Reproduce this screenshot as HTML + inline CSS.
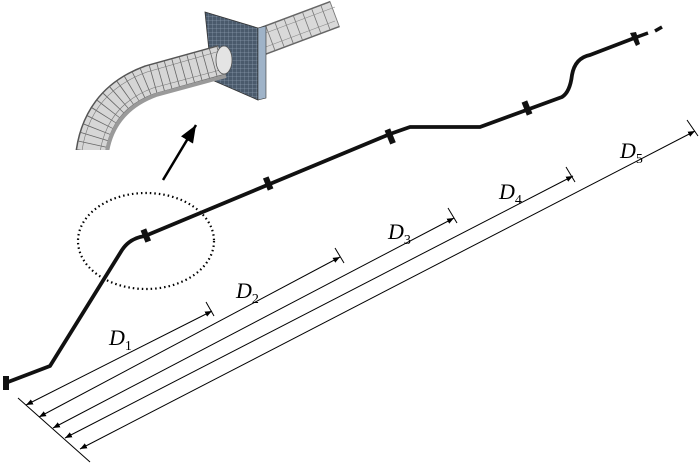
<!DOCTYPE html>
<html><head><style>html,body{margin:0;padding:0;background:#fff}svg{display:block}</style></head>
<body>
<svg width="700" height="464" viewBox="0 0 700 464" xmlns="http://www.w3.org/2000/svg">
<defs>
<pattern id="grid" width="4" height="4" patternUnits="userSpaceOnUse"><rect width="4" height="4" fill="#4a5a6c"/><path d="M0 0H4M0 0V4" stroke="#9fb2c6" stroke-width="0.5"/></pattern>
<marker id="ar" viewBox="0 0 10 10" refX="10" refY="5" markerWidth="7" markerHeight="7" orient="auto-start-reverse"><path d="M0 1L10 5L0 9z" fill="#000"/></marker>
</defs>
<!-- inset tube right of flange -->
<path d="M335 14 L255 44" stroke="#666" stroke-width="28" fill="none"/>
<path d="M335 14 L255 44" stroke="#d9d9d9" stroke-width="25" fill="none"/>
<path d="M335 14 L255 44" stroke="#777" stroke-width="25" fill="none" stroke-dasharray="0.8 9"/>
<path d="M335 7 L255 37 M335 21 L255 51" stroke="#888" stroke-width="0.6"/>
<!-- flange -->
<polygon points="205,12 258,28 258,100 212,80" fill="url(#grid)" stroke="#333" stroke-width="0.8"/>
<polygon points="258,28 266,26 266,98 258,100" fill="#9fb3c8" stroke="#333" stroke-width="0.6"/>
<!-- left curved tube -->
<path d="M90 160 Q95 100 150 80 L222 60" stroke="#555" stroke-width="31" fill="none"/>
<path d="M90 160 Q95 100 150 80 L222 60" stroke="#d6d6d6" stroke-width="28" fill="none"/>
<path d="M90 160 Q95 100 150 80 L222 60" stroke="#666" stroke-width="28" fill="none" stroke-dasharray="0.8 7"/>
<path d="M81 160 Q86 94 147 72 L220 51" stroke="#777" stroke-width="0.6" fill="none"/>
<path d="M99 160 Q104 106 153 88 L224 69" stroke="#777" stroke-width="0.6" fill="none"/>
<path d="M106 160 Q110 112 156 95 L226 76" stroke="#9a9a9a" stroke-width="4" fill="none"/>
<rect x="60" y="150" width="60" height="15" fill="#fff"/>
<ellipse cx="224" cy="60" rx="8" ry="14" fill="#e4e4e4" stroke="#555" stroke-width="0.8"/>
<!-- arrow -->
<line x1="163" y1="180" x2="196" y2="125" stroke="#000" stroke-width="2.5" marker-end="url(#ar)"/>
<!-- ellipse -->
<ellipse cx="146" cy="241" rx="68" ry="48" fill="none" stroke="#000" stroke-width="2.2" stroke-dasharray="1.5 3"/>
<!-- pipe -->
<path d="M8 382 L50 366 L122 250 Q130 238 145 236 L390 134 L410 127 L480 127 L562 97 Q570 92 572 75 Q575 58 590 55 L637 37" fill="none" stroke="#111" stroke-width="3.8" stroke-linejoin="round"/>
<path d="M637 37 L648 33 M655 31 L662 27" stroke="#111" stroke-width="3.5"/>
<rect x="3" y="376" width="6" height="14" fill="#111"/>
<g fill="#111">
<rect x="143" y="229" width="6" height="13" transform="rotate(-22 146 236)"/>
<rect x="265" y="177" width="6" height="13" transform="rotate(-22 268 183)"/>
<rect x="387" y="129" width="6" height="15" transform="rotate(-22 390 136)"/>
<rect x="524" y="101" width="6" height="14" transform="rotate(-22 527 108)"/>
<path d="M630 33 L636 32 L640 44 L636 46 Z"/>
</g>
<!-- dimension lines -->
<g stroke="#000" stroke-width="1" fill="none">
<line x1="18" y1="398" x2="90" y2="462"/>
<line x1="26" y1="405" x2="212" y2="311" marker-start="url(#ar)" marker-end="url(#ar)"/>
<line x1="39" y1="417" x2="340" y2="257" marker-start="url(#ar)" marker-end="url(#ar)"/>
<line x1="53" y1="428" x2="454" y2="218" marker-start="url(#ar)" marker-end="url(#ar)"/>
<line x1="65" y1="438" x2="573" y2="176" marker-start="url(#ar)" marker-end="url(#ar)"/>
<line x1="80" y1="449" x2="695" y2="131" marker-start="url(#ar)" marker-end="url(#ar)"/>
<line x1="206" y1="302" x2="214" y2="316"/>
<line x1="335" y1="248" x2="344" y2="263"/>
<line x1="448" y1="208" x2="457" y2="223"/>
<line x1="566" y1="167" x2="575" y2="182"/>
<line x1="687" y1="120" x2="698" y2="136"/>
</g>
<g font-family="Liberation Serif, serif" font-style="italic" font-size="22" fill="#000">
<text x="109" y="345">D<tspan font-style="normal" font-size="14" dy="5">1</tspan></text>
<text x="236" y="298">D<tspan font-style="normal" font-size="14" dy="5">2</tspan></text>
<text x="388" y="239">D<tspan font-style="normal" font-size="14" dy="5">3</tspan></text>
<text x="499" y="199">D<tspan font-style="normal" font-size="14" dy="5">4</tspan></text>
<text x="620" y="158">D<tspan font-style="normal" font-size="14" dy="5">5</tspan></text>
</g>
</svg>
</body></html>
